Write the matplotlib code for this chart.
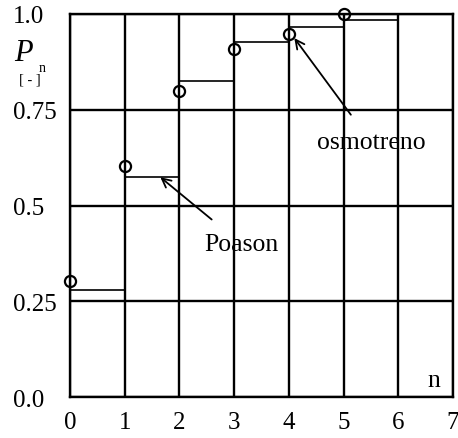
import numpy as np
import matplotlib
matplotlib.use("Agg")
import matplotlib.pyplot as plt

plt.rcParams['font.family'] = ['Liberation Serif', 'DejaVu Serif']

# cumulative probability P_n per class n
n_classes = np.arange(0, 7)
poisson_cum = [0.279, 0.574, 0.825, 0.927, 0.966, 0.984, 1.0]
n_observed = np.arange(0, 6)
observed_cum = [0.302, 0.603, 0.800, 0.908, 0.947, 1.0]

x_ticks = [0, 1, 2, 3, 4, 5, 6, 7]
y_ticks = [0.0, 0.25, 0.5, 0.75, 1.0]
y_labels = ['0.0', '0.25', '0.5', '0.75', '1.0']

fig = plt.figure(figsize=(4.58, 4.39), dpi=100)
ax = fig.add_axes([0.153, 0.093, 0.836, 0.873])

# theoretical (Poisson) cumulative step curve
xs = np.r_[0, n_classes, 7]
ys = np.r_[0, poisson_cum, poisson_cum[-1]]
ax.step(xs, ys, where='post', color='black', lw=1.2, zorder=3, clip_on=False)

# observed cumulative frequencies
ax.plot(n_observed, observed_cum, 'o', ms=8, mfc='none', mec='black', mew=1.6,
        zorder=4, clip_on=False)

ax.set_xlim(0, 7)
ax.set_ylim(0, 1.0)
ax.set_xticks(x_ticks)
ax.set_yticks(y_ticks)
ax.set_yticklabels(y_labels, ha='left')
ax.tick_params(length=0, labelsize=18)
ax.tick_params(axis='x', pad=10)
ax.tick_params(axis='y', pad=41)
ax.grid(True, color='black', lw=1.7)
for s in ax.spines.values():
    s.set_linewidth(1.7)
ax.set_axisbelow(True)

ax.annotate('Poason', xy=(1.65, 0.574), xytext=(3.13, 0.40),
            ha='center', va='center', fontsize=18.5,
            arrowprops=dict(arrowstyle='->', color='black', lw=1.3,
                            shrinkA=12, shrinkB=0, mutation_scale=16))
ax.annotate('osmotreno', xy=(4.10, 0.937), xytext=(5.50, 0.666),
            ha='center', va='center', fontsize=18.5,
            arrowprops=dict(arrowstyle='->', color='black', lw=1.3,
                            shrinkA=12, shrinkB=0, mutation_scale=16))
ax.text(6.65, 0.045, 'n', ha='center', va='center', fontsize=18.5)

# y-axis label: P with subscript n and unit below
fig.text(0.052, 0.879, 'P', style='italic', fontsize=22, ha='center', va='center')
fig.text(0.093, 0.845, 'n', fontsize=10, ha='center', va='center')
fig.text(0.066, 0.818, '[ - ]', fontsize=10.5, ha='center', va='center')

fig.savefig('out.png', dpi=100)
